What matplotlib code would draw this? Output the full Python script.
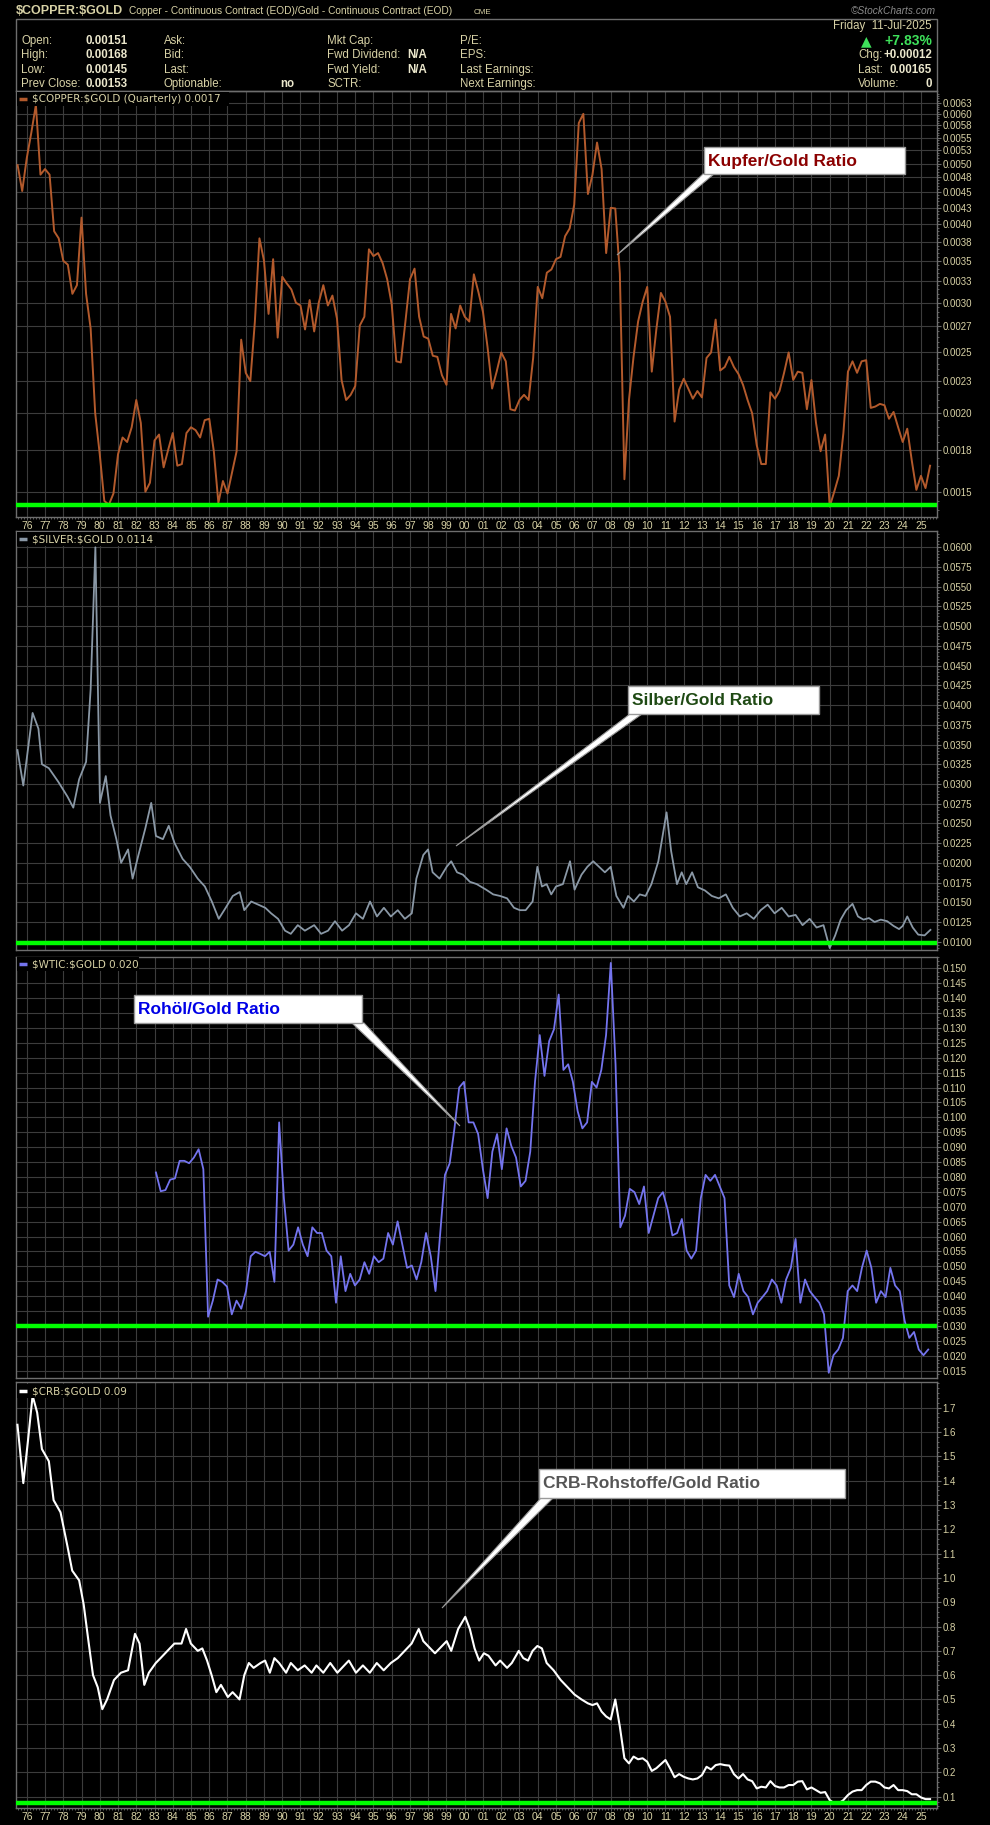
import numpy as np
import matplotlib.pyplot as plt
from matplotlib.ticker import FixedLocator, MultipleLocator, NullFormatter
from matplotlib.patches import Rectangle, Polygon

W, H = 990, 1825
TXT = '#d8d2a6'
VAL = '#ebe7cc'
GRID = '#3c3c3c'
EDGE = '#6e6e6e'
GREEN = '#00ff00'
FONT = 'Liberation Sans'

# ---- data -------------------------------------------------------------
copper_start = 1975.5   # quarterly closes
copper = [
    0.00497, 0.00452, 0.0051, 0.0056, 0.0062, 0.0048, 0.0049, 0.0048, 0.0039, 0.0038,
    0.0035, 0.00345, 0.0031, 0.0032, 0.0041, 0.0031, 0.00273, 0.0020, 0.00172, 0.00145,
    0.00143, 0.00149, 0.00172, 0.00183, 0.0018, 0.0019, 0.0021, 0.00193, 0.0015, 0.00155,
    0.00181, 0.00185, 0.00164, 0.00175, 0.00186, 0.00165, 0.00166, 0.00186, 0.0019, 0.00188,
    0.00183, 0.00195, 0.00196, 0.00174, 0.00144, 0.00156, 0.00149, 0.00161, 0.00174, 0.00262,
    0.00232, 0.00225, 0.0028, 0.0038, 0.0035, 0.00288, 0.00352, 0.00264, 0.0033, 0.00322,
    0.00315, 0.003, 0.00297, 0.00272, 0.00303, 0.0027, 0.003, 0.0032, 0.00297, 0.00308,
    0.00283, 0.00226, 0.0021, 0.00214, 0.00221, 0.00276, 0.00285, 0.00365, 0.00356, 0.0036,
    0.00347, 0.00327, 0.00298, 0.00242, 0.00241, 0.0028, 0.00327, 0.0034, 0.00285, 0.00265,
    0.00263, 0.00247, 0.00246, 0.0023, 0.00222, 0.00288, 0.00273, 0.00297, 0.00285, 0.0028,
    0.00333, 0.00312, 0.0029,
    0.00255, 0.00219, 0.00233, 0.0025, 0.00242, 0.00203, 0.00202, 0.0021, 0.00214, 0.0021,
    0.00245, 0.00318, 0.00305, 0.00335, 0.00339, 0.00352, 0.00355, 0.00383, 0.00394, 0.0043,
    0.0058, 0.006, 0.00447, 0.0048, 0.0054, 0.0049, 0.0036, 0.00425, 0.00424, 0.00334,
    0.00157, 0.0021, 0.00246, 0.0028, 0.00301, 0.00318, 0.00233, 0.00272, 0.00311, 0.00301,
    0.00285, 0.00194, 0.00218, 0.00227, 0.00219, 0.00211, 0.00217, 0.00212, 0.00245, 0.0025,
    0.00282, 0.00234, 0.00237, 0.00246, 0.00237, 0.00231, 0.00222, 0.0021, 0.002, 0.00178,
    0.00166, 0.00166, 0.00216, 0.00211, 0.00217, 0.00232, 0.0025, 0.00226, 0.00233, 0.00232,
    0.00203, 0.00226, 0.00193, 0.00174, 0.00185, 0.00142, 0.0015, 0.00159, 0.00186, 0.00233,
    0.00242, 0.00232, 0.00242, 0.00243, 0.00204, 0.00205, 0.00207, 0.00206, 0.00196, 0.00201,
    0.0019, 0.0018, 0.00189, 0.00168, 0.00151, 0.00159, 0.00152, 0.00165,
]

silver_years = [
    1975.49, 1975.81, 1976.32, 1976.64, 1976.83, 1977.21, 1977.72, 1978.23, 1978.55, 1978.87,
    1979.25, 1979.50, 1979.76, 1980.01, 1980.33, 1980.59, 1980.91, 1981.17, 1981.55, 1981.80,
    1982.12, 1982.50, 1982.82, 1983.08, 1983.46, 1983.78, 1984.10, 1984.54, 1984.93, 1985.37,
    1985.76, 1986.14, 1986.52, 1986.90, 1987.29, 1987.67, 1987.92, 1988.30, 1988.69, 1989.07,
    1989.39, 1989.77, 1990.15, 1990.47, 1990.85, 1991.24, 1991.75, 1992.13, 1992.51, 1992.89,
    1993.28, 1993.66, 1994.04, 1994.42, 1994.81, 1995.19, 1995.57, 1995.95, 1996.33, 1996.72,
    1997.10, 1997.35, 1997.73, 1997.99, 1998.24, 1998.62, 1999.01, 1999.26, 1999.58, 1999.90,
    2000.28, 2000.66, 2001.17, 2001.56, 2001.94, 2002.32, 2002.70, 2003.02, 2003.34, 2003.72,
    2003.98, 2004.23, 2004.49, 2004.74, 2005.00, 2005.38, 2005.77, 2006.02, 2006.40, 2006.72,
    2007.04, 2007.36, 2007.68, 2008.00, 2008.31, 2008.70, 2008.95, 2009.27, 2009.59, 2009.91,
    2010.23, 2010.61, 2011.06, 2011.31, 2011.63, 2011.89, 2012.14, 2012.46, 2012.78, 2013.16,
    2013.54, 2013.92, 2014.31, 2014.69, 2015.07, 2015.45, 2015.84, 2016.22, 2016.60, 2016.98,
    2017.37, 2017.75, 2018.13, 2018.51, 2018.90, 2019.28, 2019.66, 2020.00, 2020.30, 2020.60,
    2020.90, 2021.25, 2021.55, 2021.85, 2022.15, 2022.46, 2022.80, 2023.15, 2023.50, 2023.80,
    2024.00, 2024.25, 2024.55, 2024.85, 2025.20, 2025.52,
]
silver = [
    0.0343, 0.0298, 0.039, 0.037, 0.0325, 0.032, 0.0303, 0.0284, 0.027, 0.0306,
    0.0328, 0.042, 0.060, 0.0276, 0.031, 0.026, 0.023, 0.020, 0.0217, 0.018,
    0.021, 0.0244, 0.0276, 0.0234, 0.023, 0.0247, 0.0225, 0.0205, 0.0195, 0.018,
    0.017, 0.0151, 0.0129, 0.0143, 0.0158, 0.0163, 0.014, 0.0151, 0.0147, 0.0143,
    0.0136, 0.0129, 0.0114, 0.011, 0.0121, 0.0114, 0.0121, 0.011, 0.0114, 0.0126,
    0.0114, 0.0121, 0.0136, 0.0129, 0.0151, 0.0132, 0.0143, 0.0132, 0.014, 0.0129,
    0.0136, 0.018, 0.021, 0.0217, 0.0188, 0.018, 0.0195, 0.0202, 0.0188, 0.0185,
    0.0176, 0.0173, 0.0166, 0.016, 0.0158, 0.0155, 0.0143, 0.014, 0.014, 0.0151,
    0.0195, 0.017, 0.0173, 0.016, 0.017, 0.0173, 0.0202, 0.0166, 0.0185, 0.0195,
    0.0202, 0.0195, 0.0188, 0.0195, 0.0158, 0.0143, 0.0158, 0.0151, 0.016, 0.0158,
    0.0173, 0.0202, 0.0264, 0.0215, 0.0173, 0.0188, 0.0173, 0.0188, 0.0169, 0.0165,
    0.0158, 0.0155, 0.016, 0.0143, 0.0132, 0.0136, 0.0129, 0.014, 0.0147, 0.0136,
    0.0143, 0.0132, 0.0134, 0.0121, 0.0129, 0.0118, 0.0121, 0.0092, 0.0108, 0.0128,
    0.0140, 0.0148, 0.0132, 0.0128, 0.013, 0.0125, 0.0128, 0.0126, 0.012, 0.0116,
    0.012, 0.0132, 0.0118, 0.0109, 0.0108, 0.0115,
]

wtic_start, wtic_end = 1983.08, 2025.40
wtic = [
    0.0815, 0.0752, 0.0756, 0.0791, 0.0795, 0.0854, 0.0854, 0.0846, 0.0865, 0.0893,
    0.0826, 0.0331, 0.0385, 0.0456, 0.0448, 0.0432, 0.0339, 0.0385, 0.0358, 0.0417,
    0.0534, 0.0549, 0.0542, 0.0534, 0.0549, 0.0448, 0.0983, 0.0729, 0.0553, 0.0573,
    0.0631, 0.0573, 0.0534, 0.0631, 0.0612, 0.0612, 0.0553, 0.0534, 0.0378, 0.0534,
    0.0417, 0.0475, 0.0436, 0.0456, 0.0514, 0.0475, 0.0534, 0.0514, 0.0526, 0.0612,
    0.0573, 0.0651, 0.0573, 0.0495, 0.0503, 0.0456, 0.0514, 0.0612, 0.0534, 0.0417,
    0.0612, 0.0807, 0.0846, 0.0963, 0.110, 0.1119, 0.0983, 0.0983, 0.0944, 0.0826,
    0.0729, 0.0885, 0.0944, 0.0826, 0.0963, 0.0904, 0.0865, 0.0768, 0.0787, 0.0885,
    0.1119, 0.1276, 0.1139, 0.1256, 0.1295, 0.1412, 0.1159, 0.1178, 0.1119, 0.1021,
    0.0963, 0.0983, 0.1119, 0.110, 0.1159, 0.1276, 0.1518, 0.1178, 0.0631, 0.067,
    0.076, 0.0749, 0.0709, 0.0768, 0.0612, 0.067, 0.0729, 0.0749, 0.069, 0.0604,
    0.0612, 0.0659, 0.0553, 0.0526, 0.0553, 0.0729, 0.0807, 0.0787, 0.0807, 0.0768,
    0.0729, 0.0436, 0.0397, 0.0475, 0.0417, 0.0397, 0.0339, 0.0378, 0.0397, 0.0417,
    0.0456, 0.0436, 0.0378, 0.0456, 0.0495, 0.0592, 0.0378, 0.0456, 0.0417, 0.0397,
    0.0378, 0.0339, 0.0143, 0.0202, 0.0221, 0.026, 0.0417, 0.0436, 0.0417, 0.0495,
    0.0553, 0.0495, 0.0378, 0.0417, 0.0397, 0.0495, 0.0436, 0.0417, 0.0319, 0.026,
    0.028, 0.0221, 0.0202, 0.0221,
]

crb_years = [
    1975.49, 1975.81, 1976.06, 1976.32, 1976.57, 1976.83, 1977.21, 1977.47, 1977.85, 1978.23,
    1978.49, 1978.87, 1979.12, 1979.38, 1979.63, 1979.89, 1980.14, 1980.40, 1980.78, 1981.16,
    1981.55, 1981.93, 1982.18, 1982.44, 1982.69, 1983.07, 1983.33, 1983.71, 1984.09, 1984.48,
    1984.73, 1984.99, 1985.37, 1985.62, 1985.88, 1986.13, 1986.39, 1986.64, 1987.02, 1987.28,
    1987.66, 1987.92, 1988.17, 1988.43, 1988.81, 1989.06, 1989.32, 1989.57, 1989.83, 1990.21,
    1990.47, 1990.85, 1991.23, 1991.61, 1991.87, 1992.25, 1992.63, 1993.02, 1993.40, 1993.65,
    1994.04, 1994.42, 1994.80, 1995.18, 1995.56, 1995.95, 1996.33, 1996.71, 1997.09, 1997.48,
    1997.73, 1998.11, 1998.37, 1998.75, 1999.01, 1999.26, 1999.64, 2000.03, 2000.28, 2000.54,
    2000.79, 2001.05, 2001.30, 2001.69, 2001.94, 2002.32, 2002.58, 2002.96, 2003.21, 2003.47,
    2003.72, 2003.98, 2004.23, 2004.49, 2004.87, 2005.26, 2005.64, 2006.02, 2006.40,
]
crb = [
    1.63, 1.39, 1.56, 1.75, 1.68, 1.53, 1.48, 1.32, 1.27, 1.13,
    1.03, 0.99, 0.89, 0.74, 0.60, 0.55, 0.46, 0.50, 0.58, 0.61,
    0.62, 0.77, 0.73, 0.56, 0.61, 0.65, 0.67, 0.70, 0.73, 0.73,
    0.79, 0.73, 0.70, 0.71, 0.66, 0.60, 0.53, 0.56, 0.51, 0.53,
    0.50, 0.60, 0.65, 0.63, 0.65, 0.66, 0.61, 0.67, 0.65, 0.61,
    0.65, 0.62, 0.64, 0.61, 0.64, 0.61, 0.65, 0.61, 0.64, 0.66,
    0.61, 0.64, 0.61, 0.65, 0.62, 0.65, 0.67, 0.70, 0.73, 0.79,
    0.74, 0.71, 0.69, 0.72, 0.74, 0.70, 0.79, 0.84, 0.79, 0.71,
    0.66, 0.69, 0.68, 0.64, 0.66, 0.63, 0.65, 0.70, 0.67, 0.66,
    0.70, 0.72, 0.71, 0.65, 0.62, 0.58, 0.55, 0.52, 0.50,
]
crb_q_start = 2006.75   # quarterly from here on
crb_q = [
    0.484, 0.477, 0.484, 0.45, 0.43, 0.418, 0.50, 0.388, 0.258, 0.237,
    0.265, 0.254, 0.258, 0.244, 0.206, 0.217, 0.234, 0.251, 0.217, 0.18,
    0.193, 0.182, 0.175, 0.171, 0.175, 0.189, 0.223, 0.212, 0.23, 0.234,
    0.23, 0.228, 0.193, 0.175, 0.193, 0.171, 0.164, 0.134, 0.141, 0.138,
    0.164, 0.144, 0.138, 0.138, 0.148, 0.148, 0.162, 0.164, 0.13, 0.138,
    0.127, 0.116, 0.119, 0.086, 0.073, 0.073, 0.086, 0.107, 0.121, 0.127,
    0.127, 0.148, 0.162, 0.162, 0.155, 0.138, 0.134, 0.148, 0.127, 0.127,
    0.123, 0.11, 0.11, 0.097, 0.09, 0.09,
]

copper_ticks = [0.0015, 0.00175, 0.002, 0.00225, 0.0025, 0.00275, 0.003, 0.00325, 0.0035,
                0.00375, 0.004, 0.00425, 0.0045, 0.00475, 0.005, 0.00525, 0.0055, 0.00575,
                0.006, 0.00625]
copper_labels = ['0.0015', '0.0018', '0.0020', '0.0023', '0.0025', '0.0027', '0.0030', '0.0033',
                 '0.0035', '0.0038', '0.0040', '0.0043', '0.0045', '0.0048', '0.0050', '0.0053',
                 '0.0055', '0.0058', '0.0060', '0.0063']
crb_ticks = [0.1, 0.2, 0.3, 0.4, 0.5, 0.6, 0.7, 0.8, 0.9, 1.0,
             1.1, 1.2, 1.3, 1.4, 1.5, 1.6, 1.7]
support = {'copper': 0.00143, 'silver': 0.00987, 'wtic': 0.030, 'crb': 0.075}
years = list(range(1976, 2026))
year_labels = ['%02d' % (y % 100) for y in years]

# ---- figure -----------------------------------------------------------
fig = plt.figure(figsize=(W / 100, H / 100), dpi=100, facecolor='black')


def panel(top, bottom, labels_x=False):
    ax = fig.add_axes([16 / W, 1 - bottom / H, 921 / W, (bottom - top) / H])
    ax.set_facecolor('black')
    for s in ax.spines.values():
        s.set_color(EDGE)
        s.set_linewidth(1)
    ax.yaxis.tick_right()
    ax.tick_params(axis='y', which='major', colors=EDGE, labelcolor=TXT,
                   labelsize=7, length=3, width=0.8, pad=1)
    ax.tick_params(axis='y', which='minor', colors=EDGE, length=1.5, width=0.6)
    ax.set_xlim(1975.41, 2025.88)
    ax.set_xticks(years)
    ax.xaxis.set_minor_locator(MultipleLocator(1 / 6))
    if labels_x:
        ax.set_xticklabels(year_labels)
        ax.tick_params(axis='x', which='major', colors=EDGE, labelcolor=TXT,
                       labelsize=7.5, length=2, width=0.6, pad=1)
        ax.tick_params(axis='x', which='minor', colors=EDGE, length=1.5, width=0.6)
    else:
        ax.set_xticklabels([])
        ax.tick_params(axis='x', which='both', length=0)
    ax.grid(True, which='major', color=GRID, lw=0.8)
    ax.set_axisbelow(True)
    return ax


# copper / gold (log)
ax1 = panel(91, 517, labels_x=True)
ax1.set_yscale('log')
ax1.set_ylim(0.001367, 0.006524)
ax1.yaxis.set_major_locator(FixedLocator(copper_ticks))
ax1.set_yticklabels(copper_labels)
ax1.yaxis.set_minor_locator(FixedLocator(np.arange(0.0014, 0.0065, 0.00005)))
ax1.yaxis.set_minor_formatter(NullFormatter())
cx = copper_start + 0.25 * np.arange(len(copper))
ax1.plot(cx, copper, color='#b35a2c', lw=1.4, zorder=3)
ax1.axhline(support['copper'], color=GREEN, lw=3.2, zorder=4)

# silver / gold
ax2 = panel(531, 950)
ax2.set_ylim(0.00895, 0.06207)
ax2.yaxis.set_major_locator(MultipleLocator(0.0025))
ax2.yaxis.set_minor_locator(MultipleLocator(0.0025 / 6))
ax2.yaxis.set_major_formatter(lambda v, p: '%.4f' % v)
ax2.plot(silver_years, silver, color='#8a98a6', lw=1.3, zorder=3)
ax2.axhline(support['silver'], color=GREEN, lw=3.2, zorder=4)

# crude oil / gold
ax3 = panel(957, 1378)
ax3.set_ylim(0.01255, 0.15379)
ax3.yaxis.set_major_locator(MultipleLocator(0.005))
ax3.yaxis.set_minor_locator(MultipleLocator(0.005 / 4))
ax3.yaxis.set_major_formatter(lambda v, p: '%.3f' % v)
wx = np.linspace(wtic_start, wtic_end, len(wtic))
ax3.plot(wx, wtic, color='#7474ee', lw=1.3, zorder=3)
ax3.axhline(support['wtic'], color=GREEN, lw=3.2, zorder=4)

# CRB / gold
ax4 = panel(1382, 1808, labels_x=True)
ax4.set_ylim(0.0535, 1.806)
ax4.yaxis.set_major_locator(FixedLocator(crb_ticks))
ax4.yaxis.set_minor_locator(MultipleLocator(0.02))
ax4.yaxis.set_major_formatter(lambda v, p: '%.1f' % v)
crb_x = list(crb_years) + list(crb_q_start + 0.25 * np.arange(len(crb_q)))
crb_all = list(crb) + list(crb_q)
ax4.plot(crb_x, crb_all, color='white', lw=1.5, zorder=3)
ax4.axhline(support['crb'], color=GREEN, lw=3.2, zorder=4)

for ax in (ax1, ax2, ax3, ax4):
    for lab in ax.get_xticklabels() + ax.get_yticklabels():
        lab.set_family(FONT)

# ---- overlay: header, legends, call-outs ------------------------------
ov = fig.add_axes([0, 0, 1, 1], zorder=20)
ov.set_xlim(0, W)
ov.set_ylim(H, 0)
ov.axis('off')
ov.patch.set_alpha(0)


def t(x, y, s, size=8, color=TXT, weight='normal', ha='left', family=FONT, **kw):
    ov.text(x, y, s, fontsize=size, color=color, fontweight=weight, ha=ha, va='center',
            family=family, parse_math=False, **kw)


t(16, 11, '$COPPER:$GOLD', size=9, weight='bold')
t(129, 11, 'Copper - Continuous Contract (EOD)/Gold - Continuous Contract (EOD)', size=7.3)
t(474, 12, 'CME', size=5.8)
t(936, 11, '\u00a9StockCharts.com', size=7.3, color='#8a8a8a', ha='right', style='italic')
ov.add_patch(Rectangle((16, 19), 921, 72, fill=False, ec=EDGE, lw=1))

rows = [41, 55, 70, 84]
for y, lab, val in zip(rows, ['Open:', 'High:', 'Low:', 'Prev Close:'],
                       ['0.00151', '0.00168', '0.00145', '0.00153']):
    t(21, y, lab, size=8.3)
    t(86, y, val, size=8.3, weight='bold', color=VAL)
for y, lab in zip(rows, ['Ask:', 'Bid:', 'Last:', 'Optionable:']):
    t(164, y, lab, size=8.3)
t(280, 84, 'no', size=8.3, weight='bold', color=VAL)
for y, lab in zip(rows, ['Mkt Cap:', 'Fwd Dividend:', 'Fwd Yield:', 'SCTR:']):
    t(327, y, lab, size=8.3)
t(407, 55, 'N/A', size=8.3, weight='bold', color=VAL)
t(407, 70, 'N/A', size=8.3, weight='bold', color=VAL)
for y, lab in zip(rows, ['P/E:', 'EPS:', 'Last Earnings:', 'Next Earnings:']):
    t(460, y, lab, size=8.3)
t(932, 26, 'Friday  11-Jul-2025', size=8.3, ha='right')
t(932, 41, '+7.83%', size=10, weight='bold', color='#3ee05a', ha='right')
t(861, 41, '\u25b2', size=10, color='#3ee05a', family='DejaVu Sans')
t(858, 55, 'Chg:', size=8.3)
t(932, 55, '+0.00012', size=8.3, weight='bold', color=VAL, ha='right')
t(858, 70, 'Last:', size=8.3)
t(932, 70, '0.00165', size=8.3, weight='bold', color=VAL, ha='right')
t(858, 84, 'Volume:', size=8.3)
t(932, 84, '0', size=8.3, weight='bold', color=VAL, ha='right')

legends = [(99, '#b35a2c', '$COPPER:$GOLD (Quarterly) 0.0017'),
           (539, '#8a98a6', '$SILVER:$GOLD 0.0114'),
           (964, '#7474ee', '$WTIC:$GOLD 0.020'),
           (1391, '#ffffff', '$CRB:$GOLD 0.09')]
for y, col, s in legends:
    ov.add_patch(Rectangle((17, y - 7), 6.0 * len(s) + 20, 14, fc='black', ec='none'))
    ov.plot([19, 27], [y, y], color=col, lw=2.5, solid_capstyle='butt')
    t(32, y, s, size=7.5, family='DejaVu Sans')

callouts = [
    ((704, 147, 201, 27), 'Kupfer/Gold Ratio', '#8b0000', [(703, 174), (714, 174), (617, 255)]),
    ((628, 686, 191, 28), 'Silber/Gold Ratio', '#1f4a14', [(630, 714), (642, 714), (456, 846)]),
    ((134, 995, 228, 28), 'Roh\u00f6l/Gold Ratio', '#0000e6', [(352, 1023), (364, 1023), (460, 1126)]),
    ((539, 1469, 306, 29), 'CRB-Rohstoffe/Gold Ratio', '#555555', [(541, 1498), (553, 1498), (442, 1608)]),
]
for (x, y, w, h), s, col, wedge in callouts:
    ov.add_patch(Polygon(wedge, closed=True, fc='white', ec='#9a9a9a', lw=0.8))
    ov.add_patch(Rectangle((x, y), w, h, fc='white', ec='#9a9a9a', lw=1))
    t(x + 4, y + h / 2 + 0.5, s, size=12.5, weight='bold', color=col)

fig.savefig('out.png', dpi=100, facecolor='black')
